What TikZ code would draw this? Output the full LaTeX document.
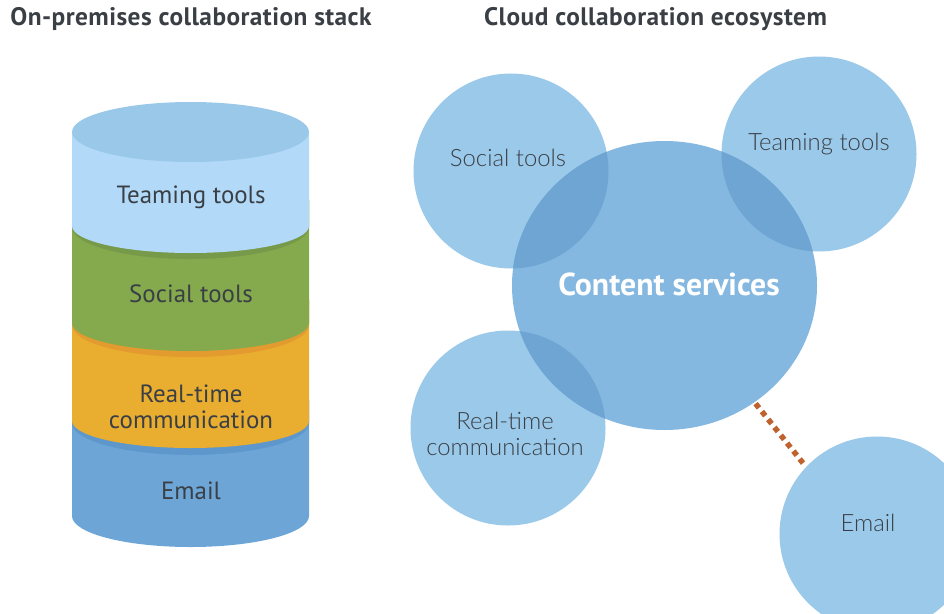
\documentclass[tikz,border=0pt]{standalone}
\usepackage{fontspec}
\setmainfont{PT Sans}
\newfontfamily\lightfont{Lato Light}
\newfontfamily\titlefont[LetterSpace=1.8]{PT Sans Bold}
\definecolor{topc}{HTML}{9AC8E9}
\definecolor{teal1}{HTML}{B2DAF8}
\definecolor{green1}{HTML}{85A94D}
\definecolor{green2}{HTML}{76994A}
\definecolor{or1}{HTML}{E9AE30}
\definecolor{or2}{HTML}{E39B2F}
\definecolor{bl1}{HTML}{6DA6D6}
\definecolor{bl2}{HTML}{5E97CC}
\definecolor{circ}{HTML}{9AC9EA}
\definecolor{big}{HTML}{84B8E0}
\definecolor{ovl}{HTML}{6FA5D3}
\definecolor{txt}{HTML}{3A3F45}
\definecolor{dotc}{HTML}{C0622D}
\tikzset{
 px/.style={x=0.75pt,y=-0.75pt},
 title/.style={font=\titlefont\fontsize{19}{22}\selectfont,text=txt,inner sep=0,anchor=base},
 lab/.style={font=\fontsize{18.7}{19.2}\selectfont,text=txt,align=center,inner sep=0,anchor=center},
 clab/.style={font=\lightfont\fontsize{17.9}{19.2}\selectfont,text=txt,align=center,inner sep=0,anchor=center},
}
\begin{document}
\begin{tikzpicture}[px]
\useasboundingbox (0,0) rectangle (944,613);
\node[title] (t1) at (191,26) {On-premises collaboration stack};
\node[title] (t2) at (655.5,26) {Cloud collaboration ecosystem};
% stack
\fill[bl1] (72,400) -- (72,516) arc[start angle=180,end angle=0,x radius=118.5,y radius=31] -- (309,400) -- cycle;
\fill[bl2] (72,400) -- (72,423) arc[start angle=180,end angle=0,x radius=118.5,y radius=32] -- (309,400) -- cycle;
\fill[or1] (72,300) -- (72,421) arc[start angle=180,end angle=0,x radius=118.5,y radius=27] -- (309,300) -- cycle;
\fill[or2] (72,300) -- (72,325) arc[start angle=180,end angle=0,x radius=118.5,y radius=32] -- (309,300) -- cycle;
\fill[green1] (72,200) -- (72,323) arc[start angle=180,end angle=0,x radius=118.5,y radius=28] -- (309,200) -- cycle;
\fill[green2] (72,200) -- (72,227) arc[start angle=180,end angle=0,x radius=118.5,y radius=32] -- (309,200) -- cycle;
\fill[teal1] (72,132) -- (72,226) arc[start angle=180,end angle=0,x radius=118.5,y radius=27] -- (309,132) -- cycle;
\fill[topc] (190.5,132) ellipse[x radius=118.5,y radius=30];
\node[lab] (a) at (191,197) {Teaming tools};
\node[lab] (b) at (191,294) {Social tools};
\node[lab] (c) at (191,407) {Real-time\\communication};
\node[lab] (d) at (191,491) {Email};
% circles
\fill[circ] (511,171) circle[radius=97.5];
\fill[circ] (819,154) circle[radius=97.5];
\fill[circ] (508,428) circle[radius=97.5];
\fill[circ] (877,534) circle[radius=97.5];
\fill[big] (664.5,285.5) ellipse[x radius=152.5,y radius=144.5];
\begin{scope}
\clip (664.5,285.5) ellipse[x radius=152.5,y radius=144.5];
\fill[ovl] (511,171) circle[radius=97.5];
\fill[ovl] (819,154) circle[radius=97.5];
\fill[ovl] (508,428) circle[radius=97.5];
\end{scope}
\coordinate (d1) at (755.6,403.6);
\coordinate (d2) at (803,463.1);
\draw[dotc,line width=4.1pt,dash pattern=on 4.1pt off 3.48pt] (d1) -- (d2);
\node[clab] (e) at (508,158) {Social tools};
\node[clab] (f) at (819,144) {Teaming tools};
\node[clab] (g) at (505,434) {Real-time\\communication};
\node[clab] (h) at (868,523) {Email};
\node[font=\bfseries\fontsize{23.8}{26}\selectfont,text=white,inner sep=0] (i) at (669,284) {Content services};
\end{tikzpicture}
\end{document}
